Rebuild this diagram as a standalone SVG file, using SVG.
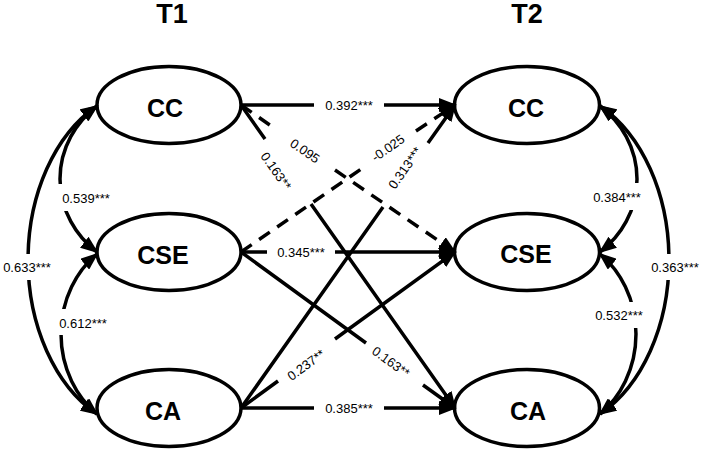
<svg xmlns="http://www.w3.org/2000/svg" width="702" height="451" viewBox="0 0 702 451">
<style>
.node ellipse{fill:#fff;stroke:#000;stroke-width:3.5}
.node text{font-family:"Liberation Sans",Arial,sans-serif;font-weight:bold;font-size:25px;text-anchor:middle;fill:#000}
.title{font-family:"Liberation Sans",Arial,sans-serif;font-weight:bold;font-size:27px;text-anchor:middle;fill:#000}
.c{fill:none;stroke:#000;stroke-width:3.5;marker-end:url(#ah)}
.dash{stroke-dasharray:13 9}
.both{marker-start:url(#ah)}
.lbl{font-family:"Liberation Sans",Arial,sans-serif;font-size:13px;text-anchor:middle;fill:#000}
.bg{fill:#fff}
</style>
<defs>
<marker id="ah" viewBox="0 0 18 14" refX="16" refY="7" markerWidth="18" markerHeight="14" markerUnits="userSpaceOnUse" orient="auto-start-reverse">
<path d="M0,0 L18,7 L0,14 Z" fill="#000" stroke="none"/>
</marker>
</defs>
<rect width="702" height="451" fill="#fff"/>
<text class="title" x="172" y="23">T1</text>
<text class="title" x="527" y="23">T2</text>

<g id="node-CC-T1" class="node"><ellipse cx="169" cy="105" rx="72" ry="38.5"/><text x="165" y="117">CC</text></g>
<g id="node-CSE-T1" class="node"><ellipse cx="169" cy="252" rx="72" ry="38.5"/><text x="163" y="264">CSE</text></g>
<g id="node-CA-T1" class="node"><ellipse cx="169" cy="408" rx="72" ry="38.5"/><text x="163" y="420">CA</text></g>
<g id="node-CC-T2" class="node"><ellipse cx="527" cy="105" rx="72.5" ry="38.5"/><text x="526" y="117">CC</text></g>
<g id="node-CSE-T2" class="node"><ellipse cx="527" cy="252" rx="72.5" ry="38.5"/><text x="526" y="263">CSE</text></g>
<g id="node-CA-T2" class="node"><ellipse cx="527" cy="408" rx="72.5" ry="38.5"/><text x="528" y="420">CA</text></g>

<g id="connectors">
<path class="c" d="M241,105 L314,105 M384,105 L455,105"/>
<path class="c dash" d="M241,105 L277,130 M335,170 L455,252"/>
<path class="c" d="M241,105 L265,139 M311,204 L455,408"/>
<path class="c dash" d="M241,252 L364,167 M416,131 L455,105"/>
<path class="c" d="M241,252 L267,252 M335,252 L455,252"/>
<path class="c" d="M241,252 L366,343 M423,385 L455,408"/>
<path class="c" d="M241,408 L383,207 M428,143 L455,105"/>
<path class="c" d="M241,408 L278,381 M335,339 L455,252"/>
<path class="c" d="M241,408 L314,408 M384,408 L455,408"/>
<path class="c both" d="M97,106 A100,94 0 0,0 97,252"/>
<path class="c both" d="M97,106 A122,171 0 0,0 97,414"/>
<path class="c both" d="M97,254 A89,99.6 0 0,0 97,414"/>
<path class="c both" d="M600,106 A100,94 0 0,1 600,252"/>
<path class="c both" d="M600,106 A122,171 0 0,1 600,414"/>
<path class="c both" d="M600,254 A89,99.6 0 0,1 600,414"/>
</g>

<g id="connector-labels">
<text class="lbl" x="349" y="109.5">0.392***</text>
<text class="lbl" x="301" y="256.5">0.345***</text>
<text class="lbl" x="349" y="412.5">0.385***</text>
<text class="lbl" transform="translate(305,151) rotate(34.7)" x="0" y="4.5">0.095</text>
<text class="lbl" transform="translate(276,171) rotate(54.8)" x="0" y="4.5">0.163**</text>
<text class="lbl" transform="translate(388,148) rotate(-34.7)" x="0" y="4.5">-0.025</text>
<text class="lbl" transform="translate(405,168) rotate(-54.8)" x="0" y="4.5">0.313***</text>
<text class="lbl" transform="translate(306,365) rotate(-36)" x="0" y="4.5">0.237**</text>
<text class="lbl" transform="translate(391,362) rotate(36)" x="0" y="4.5">0.163**</text>
<rect class="bg" x="56" y="184" width="58" height="27"/>
<text class="lbl" x="86" y="202.5">0.539***</text>
<rect class="bg" x="0" y="254" width="55" height="26"/>
<text class="lbl" x="27" y="271.5">0.633***</text>
<rect class="bg" x="55" y="309" width="57" height="26"/>
<text class="lbl" x="83" y="327.5">0.612***</text>
<rect class="bg" x="589" y="183" width="57" height="27"/>
<text class="lbl" x="617" y="201.5">0.384***</text>
<rect class="bg" x="647" y="254" width="55" height="26"/>
<text class="lbl" x="675" y="271.5">0.363***</text>
<rect class="bg" x="591" y="302" width="57" height="26"/>
<text class="lbl" x="619" y="319.5">0.532***</text>
</g>
</svg>
